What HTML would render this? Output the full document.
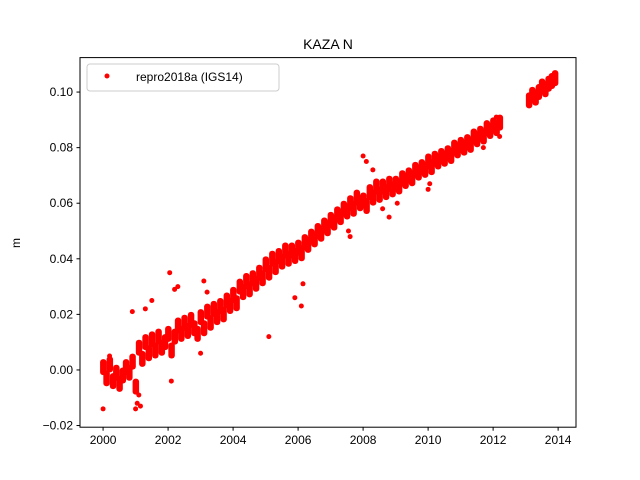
<!DOCTYPE html>
<html><head><meta charset="utf-8"><style>
body{margin:0;background:#fff}
svg{display:block;font-family:"Liberation Sans","DejaVu Sans",sans-serif}
</style></head><body>
<svg id="chart" width="640" height="480">
<rect width="640" height="480" fill="#fff"/>
<text x="328" y="49" font-size="14" text-anchor="middle">KAZA N</text>
<text transform="translate(20,243) rotate(-90)" font-size="12" text-anchor="middle">m</text>
<g id="marks"></g>
<g id="axes"></g>
<rect x="80" y="57.6" width="496" height="369.6" fill="none" stroke="#000" stroke-width="1"/>
<g>
<rect x="87" y="64" width="192" height="27" rx="3" fill="#fff" fill-opacity="0.8" stroke="#ccc"/>
<circle cx="107" cy="76" r="2.5" fill="red"/>
<text x="136" y="81" font-size="12">repro2018a (IGS14)</text>
</g>
</svg>
<script>
const startYears=[2000.0,2013.1];
const seriesA=[0.001,-0.003,0.002,-0.004,-0.001,-0.005,-0.002,0.001,-0.001,0.003,
-0.006,0.008,0.004,0.010,0.006,0.011,0.007,0.012,0.008,0.010,
0.013,0.007,0.012,0.016,0.013,0.017,0.014,0.018,0.015,0.013,
0.019,0.015,0.021,0.017,0.022,0.019,0.023,0.020,0.025,0.023,
0.027,0.024,0.030,0.028,0.032,0.029,0.033,0.031,0.035,0.033,
0.038,0.035,0.040,0.037,0.041,0.039,0.043,0.040,0.043,0.041,
0.044,0.042,0.046,0.045,0.048,0.047,0.050,0.049,0.052,0.051,
0.054,0.053,0.056,0.055,0.058,0.057,0.060,0.058,0.062,0.060,
0.061,0.059,0.064,0.062,0.066,0.063,0.066,0.064,0.067,0.065,
0.067,0.066,0.069,0.068,0.070,0.069,0.072,0.071,0.073,0.072,
0.075,0.073,0.076,0.075,0.077,0.076,0.078,0.077,0.080,0.079,
0.081,0.080,0.082,0.081,0.084,0.083,0.085,0.084,0.087,0.086,
0.088,0.087,0.089];
const seriesB=[0.097,0.099,0.098,0.100,0.102,0.101,0.103,0.104,0.105];
const outlierYears=[2000.0,2000.2,2000.9,2001.0,2001.05,2001.1,2001.15,2001.3,2001.5,2002.1,2002.05,2002.2,2002.3,2003.0,2003.1,2003.2,2005.1,2005.9,2006.1,2006.15,2007.6,2007.55,2008.0,2008.1,2008.3,2008.6,2008.8,2009.05,2010.0,2010.05,2011.7,2012.1,2012.2];
const outlierValues=[-0.014,0.005,0.021,-0.014,-0.012,-0.009,-0.013,0.022,0.025,-0.004,0.035,0.029,0.030,0.006,0.032,0.028,0.012,0.026,0.023,0.031,0.048,0.050,0.077,0.075,0.072,0.058,0.055,0.060,0.065,0.067,0.080,0.091,0.084];
const xTicks=[2000,2002,2004,2006,2008,2010,2012,2014];
const yTicks=[-0.02,0.00,0.02,0.04,0.06,0.08,0.10];

const X0=80,X1=576,Y0=427.2,Y1=57.6,xmin=1999.29,xmax=2014.55,ymin=-0.0206,ymax=0.1124;
const sx=v=>X0+(v-xmin)/(xmax-xmin)*(X1-X0);
const sy=v=>Y0-(v-ymin)/(ymax-ymin)*(Y0-Y1);
const NS="http://www.w3.org/2000/svg";
const marks=document.getElementById('marks');
function dot(x,y){
  const c=document.createElementNS(NS,'circle');
  c.setAttribute('cx',sx(x));c.setAttribute('cy',sy(y));c.setAttribute('r',2.5);c.setAttribute('fill','red');
  
  
  marks.appendChild(c);
}
function blob(x,y){
  const r=document.createElementNS(NS,'rect');
  r.setAttribute('x',sx(x)-3);r.setAttribute('y',sy(y)-8);r.setAttribute('width',6.5);r.setAttribute('height',16);
  r.setAttribute('rx',3);r.setAttribute('fill','red');
  
  
  marks.appendChild(r);
}
seriesA.forEach((v,i)=>blob(startYears[0]+i*0.1,v));
seriesB.forEach((v,i)=>blob(startYears[1]+i*0.1,v));
outlierYears.forEach((x,i)=>dot(x,outlierValues[i]));

const axes=document.getElementById('axes');
function el(tag,attrs,text){const e=document.createElementNS(NS,tag);for(const k in attrs)e.setAttribute(k,attrs[k]);if(text!==undefined)e.textContent=text;axes.appendChild(e);return e;}
xTicks.forEach(t=>{
  const l=el('line',{x1:sx(t),x2:sx(t),y1:Y0,y2:Y0+3.5,stroke:'#000'});
  
  
  const tx=el('text',{x:sx(t),y:Y0+17,'font-size':12,'text-anchor':'middle'},String(t));
  
  
});
yTicks.forEach(t=>{
  const l=el('line',{x1:X0-3.5,x2:X0,y1:sy(t),y2:sy(t),stroke:'#000'});
  
  
  const tx=el('text',{x:X0-7,y:sy(t)+4,'font-size':12,'text-anchor':'end'},(t<0?'\u2212':'')+Math.abs(t).toFixed(2));
  
  
});
</script>
</body></html>
